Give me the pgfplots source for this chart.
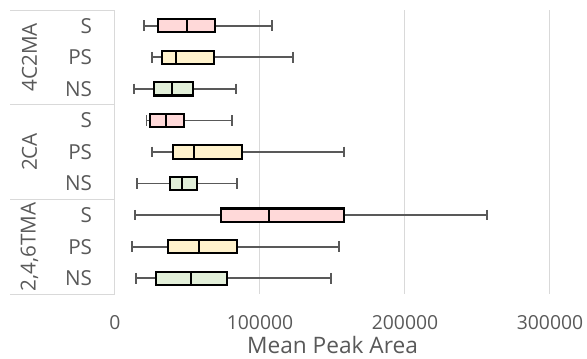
\documentclass[border=0pt]{standalone}
\usepackage{fontspec}
\setmainfont{Open Sans}
\usepackage{pgfplots}
\pgfplotsset{compat=1.18}
\usepgfplotslibrary{statistics}
\definecolor{pinkf}{HTML}{FFD9D9}
\definecolor{yelf}{HTML}{FFF2CC}
\definecolor{grnf}{HTML}{E2EFD9}
\definecolor{txt}{HTML}{595959}
\definecolor{grd}{HTML}{D9D9D9}
\newcommand{\lblfont}{\fontsize{15.5}{17}\selectfont}
\begin{document}
\begin{tikzpicture}
\path[use as bounding box] (-86.25pt,-48pt) rectangle (354pt,220.5pt);
\begin{axis}[
  at={(0,0)}, anchor=south west,
  scale only axis, width=326.25pt, height=213pt,
  xmin=0, xmax=300000, ymin=0.5, ymax=9.5, y dir=reverse,
  axis line style={draw=none},
  major tick length=0pt,
  xtick={0,100000,200000,300000},
  scaled x ticks=false,
  xticklabel style={/pgf/number format/1000 sep={}, /pgf/number format/fixed, font=\fontsize{14.5}{16}\selectfont, text=txt, anchor=center, yshift=-21.75pt},
  /pgf/number format/assume math mode=true,
  ytick={1,...,9},
  yticklabels={S,PS,NS,S,PS,NS,S,PS,NS},
  yticklabel style={font=\lblfont, text=txt, anchor=east, inner sep=0pt, xshift=-17pt},
  xlabel={Mean Peak Area},
  xlabel style={font=\fontsize{17}{19}\selectfont, text=txt, anchor=center, at={(axis description cs:0.5,0)}, yshift=-38.5pt},
  xmajorgrids, grid style={grd, line width=0.75pt},
  clip=false,
  boxplot/every box/.style={draw=black, line width=1.6pt},
  boxplot/every median/.style={draw=black, line width=1.6pt},
  boxplot/every whisker/.style={draw=txt, line width=1.3pt},
  boxplot/box extend=0.42,
  boxplot/whisker extend=0.34,
]
% 4C2MA
\addplot[fill=pinkf, boxplot prepared={draw position=1, lower whisker=20000, lower quartile=29700, median=49600, upper quartile=69000, upper whisker=108300}] coordinates {};
\addplot[fill=yelf, boxplot prepared={draw position=2, lower whisker=25500, lower quartile=32600, median=42000, upper quartile=68500, upper whisker=122800}] coordinates {};
\addplot[fill=grnf, boxplot prepared={draw position=3, lower whisker=13300, lower quartile=27100, median=39600, upper quartile=54000, upper whisker=83200}] coordinates {};
% 2CA
\addplot[fill=pinkf, boxplot prepared={draw position=4, lower whisker=21800, lower quartile=24100, median=35000, upper quartile=47600, upper whisker=80900}] coordinates {};
\addplot[fill=yelf, boxplot prepared={draw position=5, lower whisker=25400, lower quartile=40200, median=54600, upper quartile=87800, upper whisker=158000}] coordinates {};
\addplot[fill=grnf, boxplot prepared={draw position=6, lower whisker=15000, lower quartile=37900, median=46000, upper quartile=56300, upper whisker=84300}] coordinates {};
% 2,4,6TMA
\addplot[fill=pinkf, boxplot prepared={draw position=7, lower whisker=13800, lower quartile=73100, median=106400, upper quartile=158000, upper whisker=256600}] coordinates {};
\addplot[fill=yelf, boxplot prepared={draw position=8, lower whisker=11900, lower quartile=36800, median=58200, upper quartile=84100, upper whisker=154500}] coordinates {};
\addplot[fill=grnf, boxplot prepared={draw position=9, lower whisker=14500, lower quartile=28500, median=52400, upper quartile=77000, upper whisker=148900}] coordinates {};
% category separators
\draw[grd, line width=0.75pt] (axis cs:-72400,0.5) -- (axis cs:0,0.5);
\draw[grd, line width=0.75pt] (axis cs:-72400,3.5) -- (axis cs:0,3.5);
\draw[grd, line width=0.75pt] (axis cs:-72400,6.5) -- (axis cs:0,6.5);
\draw[grd, line width=0.75pt] (axis cs:-72400,9.5) -- (axis cs:0,9.5);
\node[rotate=90, font=\lblfont, text=txt] at (axis cs:-59000,2) {4C2MA};
\node[rotate=90, font=\lblfont, text=txt] at (axis cs:-59000,5) {2CA};
\node[rotate=90, font=\lblfont, text=txt] at (axis cs:-59000,8) {2,4,6TMA};
\end{axis}
\end{tikzpicture}
\end{document}
